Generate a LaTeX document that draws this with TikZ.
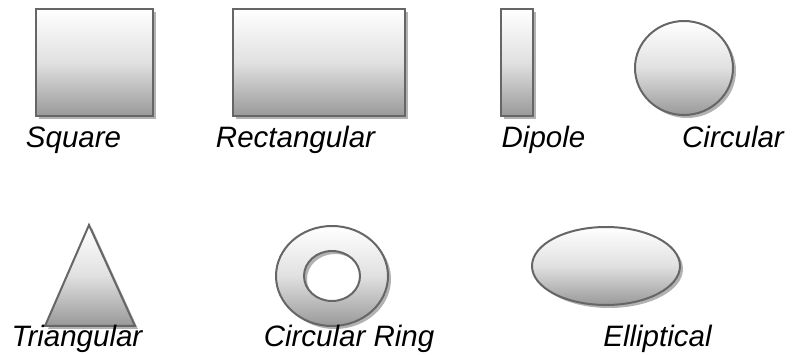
\documentclass[tikz,border=0pt]{standalone}
\usepackage{fontspec}
\setmainfont{Liberation Sans}
\usetikzlibrary{shapes.geometric}
\tikzset{
  shp/.style={draw=black!60, line width=2pt, top color=white, bottom color=black!40, middle color=black!12},
  shd/.style={fill=black!30, draw=none},
  lbl/.style={font=\itshape\fontsize{29.5}{32}\selectfont, anchor=base, inner sep=0pt},
}
\begin{document}
\begin{tikzpicture}[x=1pt,y=-1pt]
\useasboundingbox (0,0) rectangle (796,355);
% shadows
\fill[shd] (39,12) rectangle (156,119);
\fill[shd] (236,12) rectangle (408,119);
\fill[shd] (504,12) rectangle (536,119);
\fill[shd] (687,71) ellipse [x radius=49, y radius=47];
\fill[shd] (48,329) -- (92,228) -- (138,329) -- cycle;
\fill[shd, even odd rule] (335,279) ellipse [x radius=56, y radius=50] (335,279) ellipse [x radius=28, y radius=25];
\fill[shd] (609,269) ellipse [x radius=74, y radius=39];
% shapes
\node[shp, rectangle, inner sep=0pt, minimum width=117pt, minimum height=107pt] (sq) at (94.5,62.5) {};
\node[shp, rectangle, inner sep=0pt, minimum width=172pt, minimum height=107pt] (re) at (319,62.5) {};
\node[shp, rectangle, inner sep=0pt, minimum width=32pt, minimum height=107pt] (di) at (517,62.5) {};
\node[shp, ellipse, inner sep=0pt, minimum width=98pt, minimum height=94pt] (ci) at (684,68) {};
\draw[shp] (45,326) -- (89,225) -- (135,326) -- cycle;
\draw[shp, even odd rule] (332,276) ellipse [x radius=56, y radius=50] (332,276) ellipse [x radius=28, y radius=25];
\node[shp, ellipse, inner sep=0pt, minimum width=148pt, minimum height=78pt] (el) at (606,266) {};
% labels
\node[lbl] (lsq) at (73.5,148) {Square};
\node[lbl] (lre) at (295.5,148) {Rectangular};
\node[lbl] (ldi) at (543.5,148) {Dipole};
\node[lbl] (lci) at (733,148) {Circular};
\node[lbl] (ltr) at (77,347) {Triangular};
\node[lbl] (lri) at (349,347) {Circular Ring};
\node[lbl] (lel) at (657.5,347) {Elliptical};
\end{tikzpicture}
\end{document}
